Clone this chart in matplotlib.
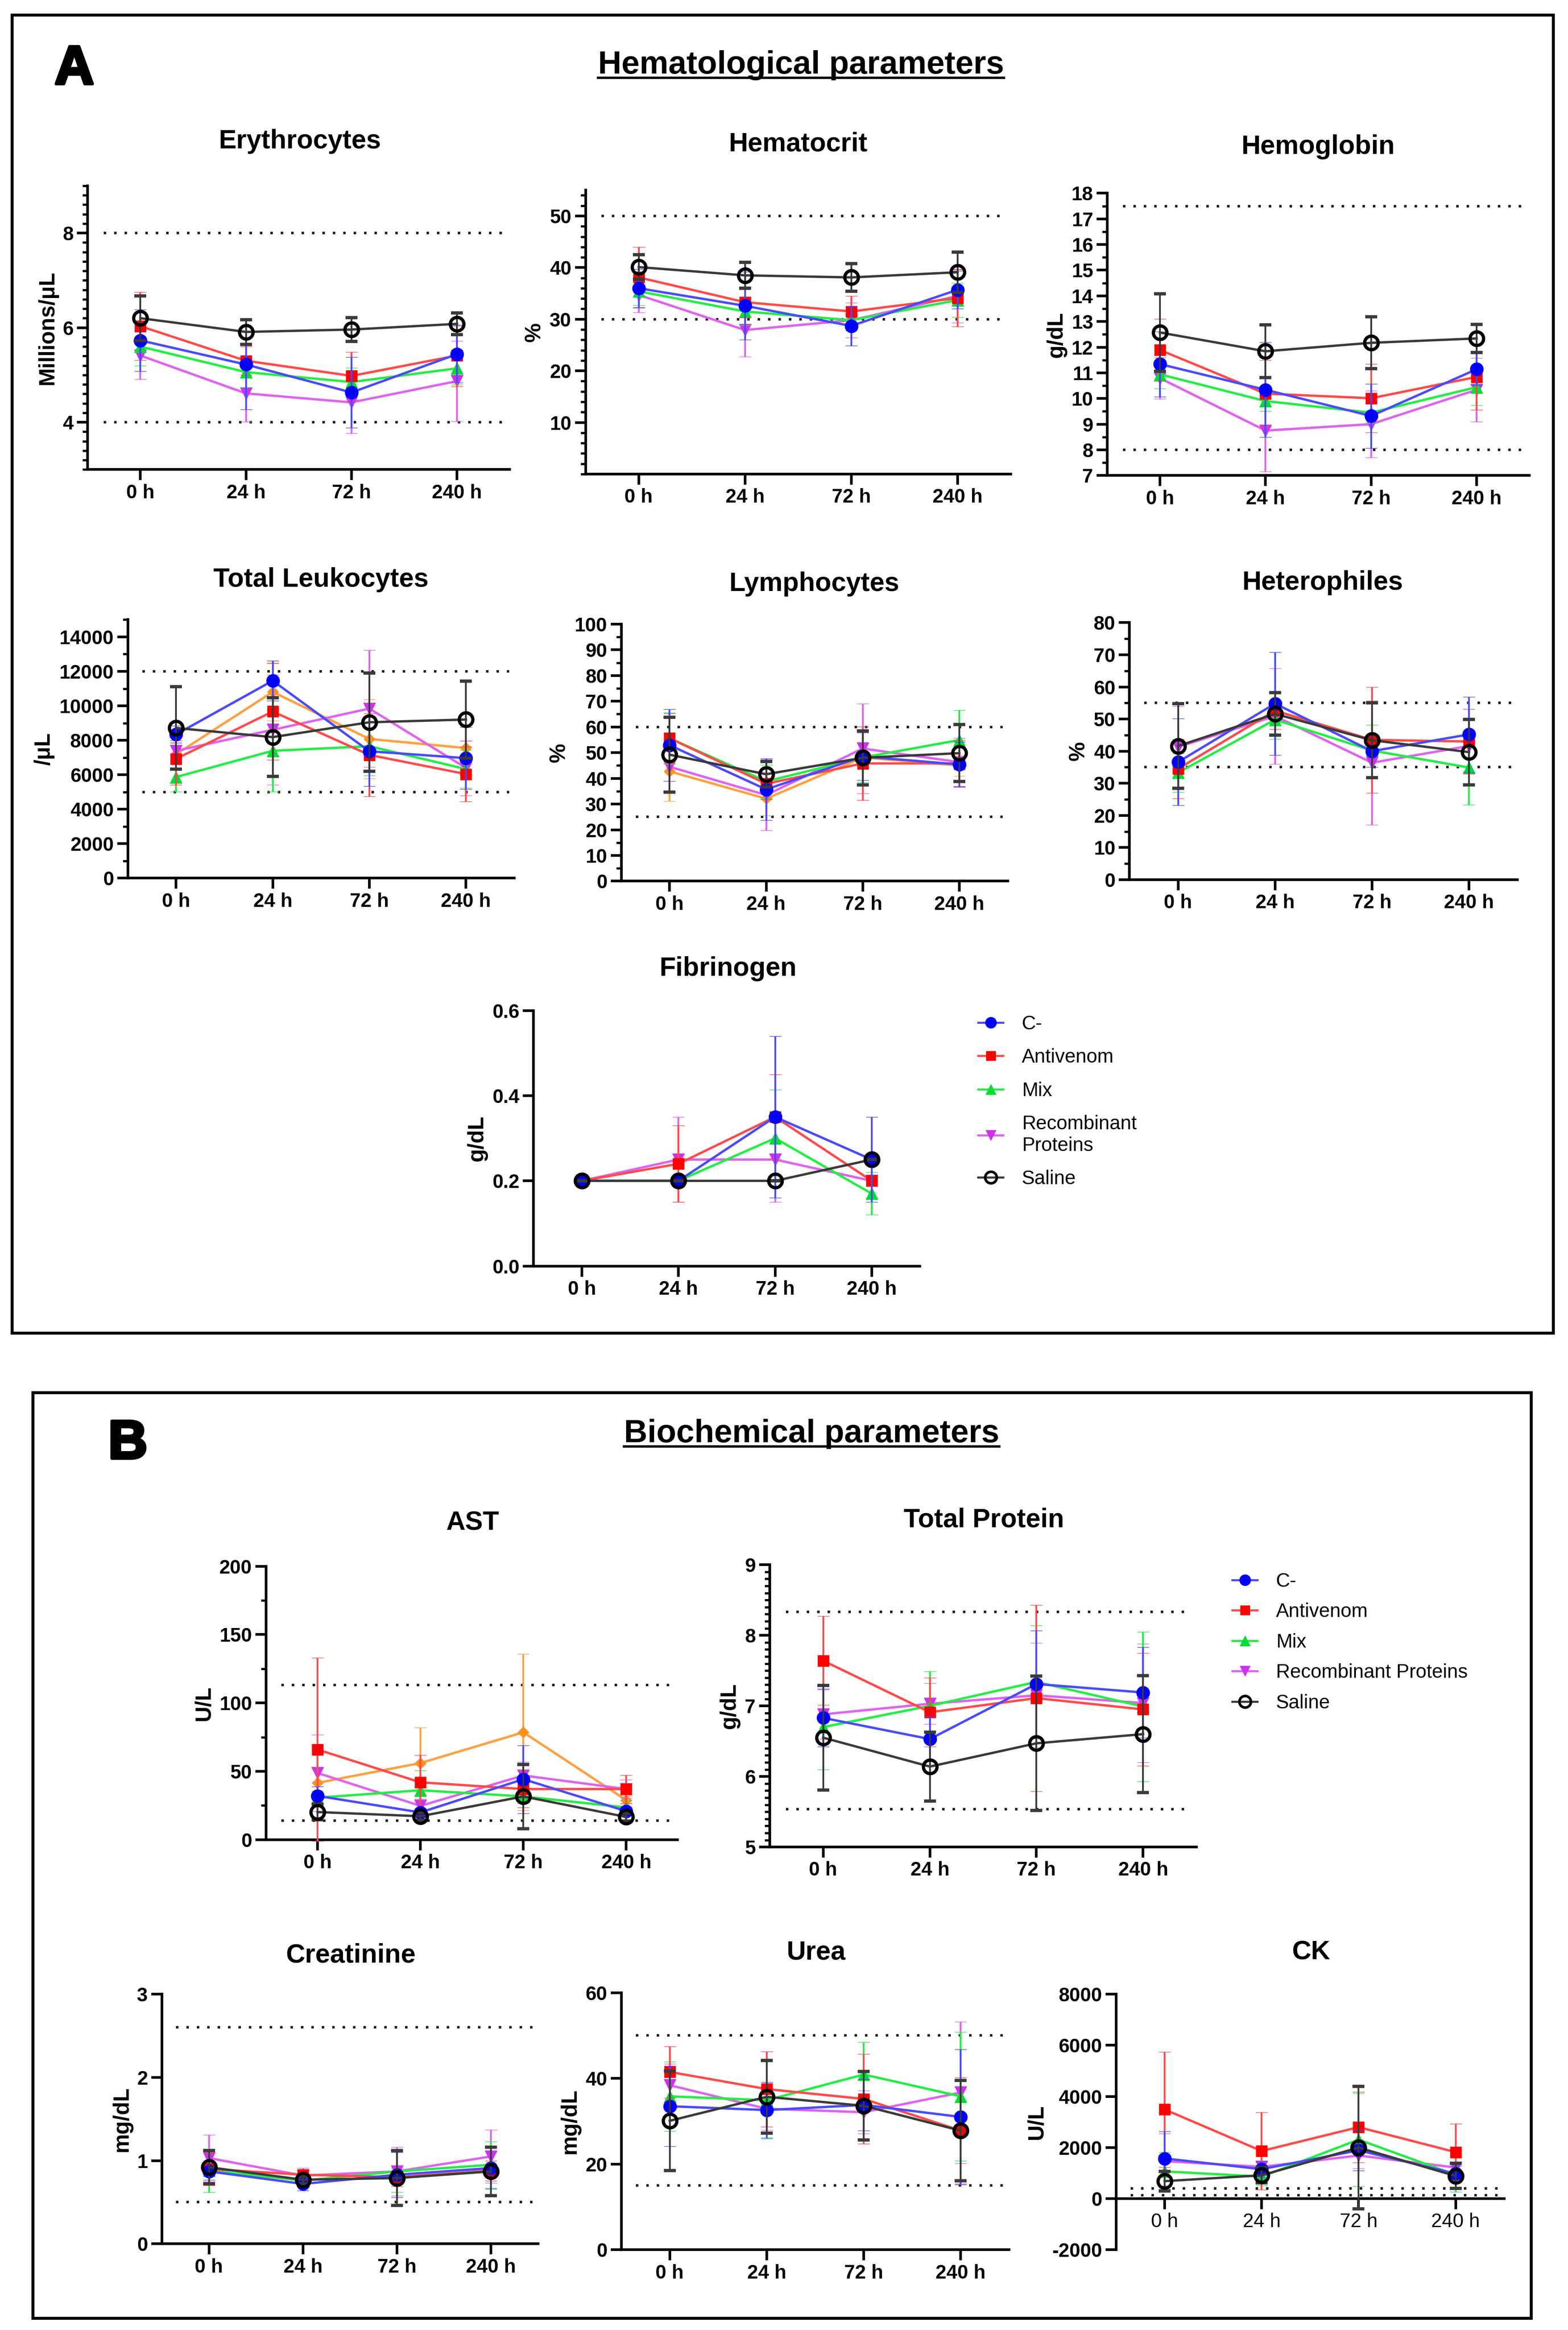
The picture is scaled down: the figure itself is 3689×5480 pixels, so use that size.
import matplotlib
matplotlib.use('Agg')
import matplotlib.pyplot as plt  # noqa: E402
from matplotlib.lines import Line2D  # noqa: E402
from matplotlib.patches import Rectangle  # noqa: E402
from matplotlib.ticker import MultipleLocator, FormatStrFormatter  # noqa: E402
import matplotlib.patheffects as pe  # noqa: E402

plt.rcParams['font.family'] = ['Liberation Sans', 'DejaVu Sans']
plt.rcParams['axes.unicode_minus'] = False

TIMES = ['0 h', '24 h', '72 h', '240 h']
GROUPS = ['C-', 'Antivenom', 'Mix', 'Recombinant Proteins', 'Saline']

# rows follow GROUPS; columns follow TIMES (mean, sd)
ERY_MEAN = [[5.73, 5.22, 4.63, 5.44], [6.03, 5.30, 4.98, 5.41], [5.60, 5.06, 4.85, 5.14],
            [5.41, 4.61, 4.42, 4.87], [6.20, 5.91, 5.96, 6.08]]
ERY_SD = [[0.65, 0.95, 0.75, 0.60], [0.72, 0.30, 0.50, 0.65], [0.40, 0.32, 0.30, 0.35],
          [0.50, 0.60, 0.65, 0.85], [0.47, 0.26, 0.25, 0.23]]

HCT_MEAN = [[36.0, 32.6, 28.7, 35.7], [38.1, 33.3, 31.5, 34.1], [35.4, 31.5, 29.8, 33.7],
            [34.7, 27.9, 29.8, 34.5], [40.1, 38.5, 38.1, 39.1]]
HCT_SD = [[3.7, 6.6, 3.8, 3.7], [5.9, 3.0, 3.0, 5.5], [2.7, 2.7, 2.0, 3.3],
          [3.4, 5.2, 3.4, 5.2], [2.4, 2.5, 2.7, 3.9]]

HB_MEAN = [[11.34, 10.34, 9.32, 11.14], [11.89, 10.19, 10.01, 10.84], [10.94, 9.90, 9.45, 10.44],
           [10.79, 8.75, 9.00, 10.34], [12.57, 11.84, 12.17, 12.34]]
HB_SD = [[1.27, 1.85, 1.25, 0.62], [1.21, 1.30, 1.33, 1.29], [0.55, 0.40, 0.40, 0.70],
         [0.80, 1.60, 1.30, 1.24], [1.51, 1.03, 1.01, 0.55]]

LEUK_MEAN = [[8344, 11457, 7364, 6967], [6927, 9669, 7152, 6040], [5868, 7391, 7656, 6331],
             [7391, 8609, 9841, 6397], [8715, 8185, 9046, 9205]]
LEUK_SD = [[500, 1160, 2030, 1800], [1520, 2800, 2410, 1590], [860, 2380, 1700, 1100],
           [600, 3200, 3380, 1590], [2385, 2280, 2850, 2225]]
LEUK_EXTRA_MEAN = [7192, 10808, 8079, 7550]
LEUK_EXTRA_SD = [800, 1680, 2300, 400]

LYM_MEAN = [[52.9, 35.7, 48.5, 45.4], [55.6, 37.9, 45.8, 45.8], [55.6, 38.8, 48.1, 54.9],
            [44.5, 33.5, 51.6, 46.3], [49.2, 41.6, 48.0, 49.8]]
LYM_SD = [[14.0, 12.0, 9.3, 8.8], [9.7, 6.0, 14.3, 9.0], [10.0, 6.5, 9.7, 11.7],
          [10.2, 13.8, 17.4, 9.3], [14.5, 5.0, 10.5, 11.1]]
LYM_EXTRA_MEAN = [42.7, 32.1, 48.1, 45.0]
LYM_EXTRA_SD = [11.5, 6.6, 10.7, 4.0]

HET_MEAN = [[36.6, 54.8, 40.0, 45.2], [34.5, 52.6, 43.5, 43.0], [33.3, 49.8, 40.2, 34.9],
            [41.3, 50.9, 36.4, 41.6], [41.6, 51.6, 43.4, 39.7]]
HET_SD = [[13.5, 16.0, 5.0, 11.7], [9.2, 5.7, 16.5, 10.0], [6.0, 6.0, 8.0, 11.6],
          [12.7, 14.9, 19.3, 8.4], [13.2, 6.6, 11.7, 10.2]]

FIB_MEAN = [[0.20, 0.20, 0.35, 0.25], [0.20, 0.24, 0.35, 0.20], [0.20, 0.20, 0.30, 0.17],
            [0.20, 0.25, 0.25, 0.20], [0.20, 0.20, 0.20, 0.25]]
FIB_SD = [[0.0, 0.0, 0.19, 0.10], [0.0, 0.09, 0.10, 0.0], [0.0, 0.0, 0.114, 0.05],
          [0.0, 0.10, 0.10, 0.0], [0.0, 0.0, 0.0, 0.0]]

AST_MEAN = [[32.0, 19.9, 44.2, 20.8], [65.9, 41.9, 37.0, 37.0], [30.7, 36.1, 31.6, 23.5],
            [48.7, 24.7, 46.9, 37.0], [20.2, 17.1, 31.6, 16.6]]
AST_SD = [[6.8, 3.0, 24.9, 3.0], [67.0, 19.8, 13.5, 10.3], [5.0, 14.4, 5.0, 5.0],
          [28.0, 5.0, 10.0, 6.7], [5.8, 3.0, 23.5, 3.0]]
AST_EXTRA_MEAN = [41.5, 56.0, 78.5, 28.9]
AST_EXTRA_SD = [11.7, 26.1, 57.2, 3.0]

TP_MEAN = [[6.83, 6.53, 7.31, 7.19], [7.64, 6.91, 7.11, 6.95], [6.70, 7.00, 7.34, 6.99],
           [6.88, 7.03, 7.15, 7.04], [6.55, 6.14, 6.47, 6.60]]
TP_SD = [[0.41, 0.32, 0.76, 0.64], [0.63, 0.49, 1.32, 0.80], [0.60, 0.49, 0.80, 1.06],
         [0.35, 0.29, 0.74, 0.84], [0.74, 0.49, 0.95, 0.83]]

CREA_MEAN = [[0.87, 0.72, 0.83, 0.91], [0.90, 0.83, 0.80, 0.88], [0.88, 0.76, 0.87, 0.95],
             [1.03, 0.82, 0.87, 1.05], [0.92, 0.77, 0.79, 0.87]]
CREA_SD = [[0.10, 0.08, 0.27, 0.25], [0.20, 0.05, 0.11, 0.12], [0.26, 0.05, 0.25, 0.28],
           [0.28, 0.09, 0.29, 0.32], [0.20, 0.05, 0.33, 0.29]]

UREA_MEAN = [[33.5, 32.6, 33.8, 31.0], [41.5, 37.5, 35.2, 27.8], [35.8, 34.9, 40.9, 35.8],
             [38.4, 32.9, 32.1, 36.7], [30.1, 35.7, 33.6, 27.8]]
UREA_SD = [[9.4, 6.5, 6.0, 15.8], [6.0, 8.8, 10.5, 12.4], [8.1, 9.0, 7.6, 15.0],
           [5.0, 5.0, 5.0, 16.5], [11.6, 8.5, 8.0, 11.7]]

CK_MEAN = [[1571, 1154, 1891, 976], [3489, 1864, 2796, 1820], [1065, 861, 2308, 932],
           [1465, 1243, 1687, 1216], [684, 914, 1997, 888]]
CK_SD = [[1065, 300, 800, 300], [2254, 1509, 1376, 1109], [754, 350, 1820, 666],
         [1083, 177, 500, 200], [380, 300, 2400, 490]]

# styles: line colour, marker, marker face, marker edge, size
STYLE = [
    dict(lc='#4a4aff', marker='o', mfc='#0000ff', mec='#0000ff', ms=22, mew=1),
    dict(lc='#ff4a4a', marker='s', mfc='#ff0000', mec='#ff0000', ms=19, mew=1),
    dict(lc='#22ee44', marker='^', mfc='#00dd33', mec='#00dd33', ms=20, mew=1),
    dict(lc='#e062f0', marker='v', mfc='#cc33ee', mec='#cc33ee', ms=20, mew=1),
    dict(lc='#3a3a3a', marker='o', mfc='none', mec='#000000', ms=23, mew=5.5),
]
EXTRA = dict(lc='#ffa040', marker='D', mfc='#ff9020', mec='#ff9020', ms=13, mew=1)
DRAW_ORDER = [3, 2, 1, 0, 4]

W, H = 1055.0, 1568.0
fig = plt.figure(figsize=(36.89, 54.80), dpi=100)


def series(ax, mean, sd, st, z):
    ax.errorbar(range(4), mean, yerr=sd, color=st['lc'], lw=4,
                marker=st['marker'], ms=st['ms'], mfc=st['mfc'], mec=st['mec'],
                mew=st['mew'], ecolor=st['lc'], elinewidth=3, capsize=10,
                capthick=3, zorder=z, clip_on=False)


def panel(box, title, tpos, ylabel, mean, sd, ylim, major, minor=None,
          refs=(), extra=None, fmt=None):
    L, T, R, B = box
    ax = fig.add_axes([L / W, 1 - B / H, (R - L) / W, (B - T) / H])
    if extra is not None:
        series(ax, extra[0], extra[1], EXTRA, 2)
    for k, g in enumerate(DRAW_ORDER):
        series(ax, mean[g], sd[g], STYLE[g], 3 + k)
    for r in refs:
        ax.hlines(r, -0.35, 3.45, colors='#1a1a1a', linestyles=(0, (1, 3.2)),
                  lw=4.2, zorder=1)
    ax.set_xlim(-0.5, 3.5)
    ax.set_ylim(*ylim)
    ax.set_xticks(range(4))
    ax.set_xticklabels(TIMES)
    ax.set_yticks(major)
    if minor:
        ax.yaxis.set_minor_locator(MultipleLocator(minor))
    if fmt:
        ax.yaxis.set_major_formatter(FormatStrFormatter(fmt))
    for s in ('top', 'right'):
        ax.spines[s].set_visible(False)
    for s in ('left', 'bottom'):
        ax.spines[s].set_linewidth(4.5)
    ax.tick_params(which='major', direction='out', length=18, width=4.5,
                   labelsize=33, pad=6)
    ax.tick_params(which='minor', direction='out', length=9, width=3.8)
    ax.tick_params(axis='x', which='minor', bottom=False)
    for lab in ax.get_xticklabels() + ax.get_yticklabels():
        lab.set_fontweight('bold')
    ax.set_ylabel(ylabel, fontsize=37, fontweight='bold', labelpad=8)
    ax.patch.set_visible(False)
    fig.text(tpos[0] / W, 1 - tpos[1] / H, title, ha='center', va='center',
             fontsize=45, fontweight='bold')
    return ax


def legend(ax, x, y, labels, spacing):
    handles = [Line2D([], [], color=STYLE[i]['lc'], lw=3.5, marker=STYLE[i]['marker'],
                      ms=STYLE[i]['ms'] * 0.85, mfc=STYLE[i]['mfc'], mec=STYLE[i]['mec'],
                      mew=STYLE[i]['mew'] * 0.8) for i in range(5)]
    ax.legend(handles, labels, loc='upper left', bbox_to_anchor=(x / W, 1 - y / H),
              bbox_transform=fig.transFigure, frameon=False, fontsize=33,
              handlelength=1.3, handletextpad=0.95, labelspacing=spacing,
              borderaxespad=0, borderpad=0)


# section frames
fig.add_artist(Rectangle((8 / W, 1 - 897 / H), (1045 - 8) / W, (897 - 10) / H,
                         transform=fig.transFigure, fill=False, lw=5, ec='black'))
fig.add_artist(Rectangle((22 / W, 1 - 1560 / H), (1030 - 22) / W, (1560 - 937) / H,
                         transform=fig.transFigure, fill=False, lw=5, ec='black'))

heads = []
for letter, lx, ly, head, hx, hy in [('A', 50, 47, 'Hematological parameters', 539, 44),
                                     ('B', 86, 972, 'Biochemical parameters', 546, 965)]:
    fig.text(lx / W, 1 - ly / H, letter, ha='center', va='center', fontsize=92,
             fontweight='bold',
             path_effects=[pe.withStroke(linewidth=5, foreground='black')])
    heads.append(fig.text(hx / W, 1 - hy / H, head, ha='center', va='center',
                          fontsize=55, fontweight='bold'))

panel((59, 125, 343, 316), 'Erythrocytes', (202, 95), 'Millions/μL', ERY_MEAN, ERY_SD,
      (3, 9), [4, 6, 8], 0.2, refs=(8, 4))
panel((394, 128, 680, 319), 'Hematocrit', (537, 97), '%', HCT_MEAN, HCT_SD,
      (0, 55), [10, 20, 30, 40, 50], 2, refs=(50, 30))
panel((745, 130, 1029, 320), 'Hemoglobin', (887, 99), 'g/dL', HB_MEAN, HB_SD,
      (7, 18), list(range(7, 19)), 0.5, refs=(17.5, 8))
panel((86, 417, 346, 591), 'Total Leukocytes', (216, 390), '/μL', LEUK_MEAN, LEUK_SD,
      (0, 15000), list(range(0, 14001, 2000)), 1000, refs=(12000, 5000),
      extra=(LEUK_EXTRA_MEAN, LEUK_EXTRA_SD))
panel((418, 420, 678, 593), 'Lymphocytes', (548, 393), '%', LYM_MEAN, LYM_SD,
      (0, 100), list(range(0, 101, 10)), 5, refs=(60, 25),
      extra=(LYM_EXTRA_MEAN, LYM_EXTRA_SD))
panel((760, 419, 1021, 592), 'Heterophiles', (890, 392), '%', HET_MEAN, HET_SD,
      (0, 80), list(range(0, 81, 10)), 5, refs=(55, 35))
ax_fib = panel((359, 680, 619, 852), 'Fibrinogen', (490, 652), 'g/dL', FIB_MEAN, FIB_SD,
               (0, 0.6), [0.0, 0.2, 0.4, 0.6], fmt='%.1f')
legend(ax_fib, 658, 683, ['C-', 'Antivenom', 'Mix', 'Recombinant\nProteins', 'Saline'], 0.75)

panel((179, 1054, 456, 1238), 'AST', (318, 1025), 'U/L', AST_MEAN, AST_SD,
      (0, 200), [0, 50, 100, 150, 200], 25, refs=(113, 14),
      extra=(AST_EXTRA_MEAN, AST_EXTRA_SD))
ax_tp = panel((518, 1053, 805, 1243), 'Total Protein', (662, 1023), 'g/dL', TP_MEAN, TP_SD,
              (5, 9), [5, 6, 7, 8, 9], 0.1, refs=(8.33, 5.54))
legend(ax_tp, 829, 1058, GROUPS, 0.6)

panel((109, 1342, 362, 1510), 'Creatinine', (236, 1316), 'mg/dL', CREA_MEAN, CREA_SD,
      (0, 3), [0, 1, 2, 3], refs=(2.6, 0.5))
panel((418, 1341, 679, 1514), 'Urea', (549, 1314), 'mg/dL', UREA_MEAN, UREA_SD,
      (0, 60), [0, 20, 40, 60], refs=(50, 15))
ax_ck = panel((751, 1342, 1012, 1514), 'CK', (882, 1314), 'U/L', CK_MEAN, CK_SD,
              (-2000, 8000), list(range(-2000, 8001, 2000)), refs=(400, 130))
ax_ck.spines['bottom'].set_position(('data', 0))

# underline the section headings
renderer = fig.canvas.get_renderer()
fw, fh = fig.bbox.width, fig.bbox.height
for t in heads:
    bb = t.get_window_extent(renderer)
    yl = (bb.y0 + 6) / fh
    fig.add_artist(Line2D([bb.x0 / fw, bb.x1 / fw], [yl, yl], transform=fig.transFigure,
                          color='black', lw=4))

fig.savefig('out.png', dpi=100)
print('wrote out.png')
